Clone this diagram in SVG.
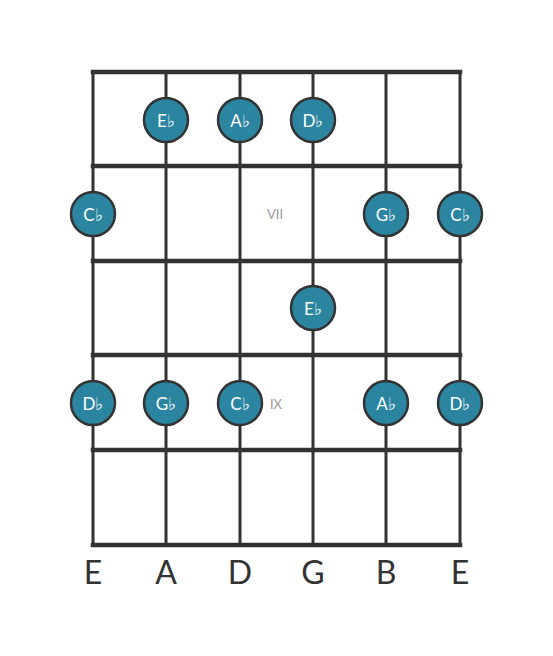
<svg xmlns="http://www.w3.org/2000/svg" width="553" height="656" viewBox="0 0 553 656">
<style>
.fret{stroke:#333;stroke-width:4.5;stroke-linecap:square}
.str{stroke:#333;stroke-width:3}
.dot circle{fill:#2b85a0;stroke:#333;stroke-width:2.5}
.dot text{fill:#fff;font-family:Lato,"Open Sans",sans-serif;font-size:17px;text-anchor:middle;dominant-baseline:central}
.pos{fill:#999;font-family:Lato,"Open Sans",sans-serif;font-size:13px;text-anchor:middle;dominant-baseline:central}
.lbl{fill:#333;font-family:Lato,"Open Sans",sans-serif;font-size:32px;text-anchor:middle}
</style>
<rect width="553" height="656" fill="#fff"/>
<g id="board">
<line class="str" x1="93" y1="72" x2="93" y2="545"/>
<line class="str" x1="166" y1="72" x2="166" y2="545"/>
<line class="str" x1="240" y1="72" x2="240" y2="545"/>
<line class="str" x1="313" y1="72" x2="313" y2="545"/>
<line class="str" x1="386" y1="72" x2="386" y2="545"/>
<line class="str" x1="460" y1="72" x2="460" y2="545"/>
<line class="fret" x1="93" y1="72" x2="460" y2="72"/>
<line class="fret" x1="93" y1="166" x2="460" y2="166"/>
<line class="fret" x1="93" y1="261" x2="460" y2="261"/>
<line class="fret" x1="93" y1="355" x2="460" y2="355"/>
<line class="fret" x1="93" y1="450" x2="460" y2="450"/>
<line class="fret" x1="93" y1="545" x2="460" y2="545"/>
</g>
<text class="pos" x="275" y="214">VII</text>
<text class="pos" x="276" y="404">IX</text>
<g id="n1" class="dot"><circle cx="166" cy="120" r="22"/><text x="166" y="120">E♭</text></g>
<g id="n2" class="dot"><circle cx="240" cy="120" r="22"/><text x="240" y="120">A♭</text></g>
<g id="n3" class="dot"><circle cx="313" cy="120" r="22"/><text x="313" y="120">D♭</text></g>
<g id="n4" class="dot"><circle cx="93" cy="214" r="22"/><text x="93" y="214">C♭</text></g>
<g id="n5" class="dot"><circle cx="386" cy="214" r="22"/><text x="386" y="214">G♭</text></g>
<g id="n6" class="dot"><circle cx="460" cy="214" r="22"/><text x="460" y="214">C♭</text></g>
<g id="n7" class="dot"><circle cx="313" cy="308" r="22"/><text x="313" y="308">E♭</text></g>
<g id="n8" class="dot"><circle cx="93" cy="403" r="22"/><text x="93" y="403">D♭</text></g>
<g id="n9" class="dot"><circle cx="166" cy="403" r="22"/><text x="166" y="403">G♭</text></g>
<g id="n10" class="dot"><circle cx="240" cy="403" r="22"/><text x="240" y="403">C♭</text></g>
<g id="n11" class="dot"><circle cx="386" cy="403" r="22"/><text x="386" y="403">A♭</text></g>
<g id="n12" class="dot"><circle cx="460" cy="403" r="22"/><text x="460" y="403">D♭</text></g>
<g id="labels">
<text class="lbl" x="93" y="584">E</text>
<text class="lbl" x="166" y="584">A</text>
<text class="lbl" x="240" y="584">D</text>
<text class="lbl" x="313" y="584">G</text>
<text class="lbl" x="386" y="584">B</text>
<text class="lbl" x="460" y="584">E</text>
</g>
</svg>
